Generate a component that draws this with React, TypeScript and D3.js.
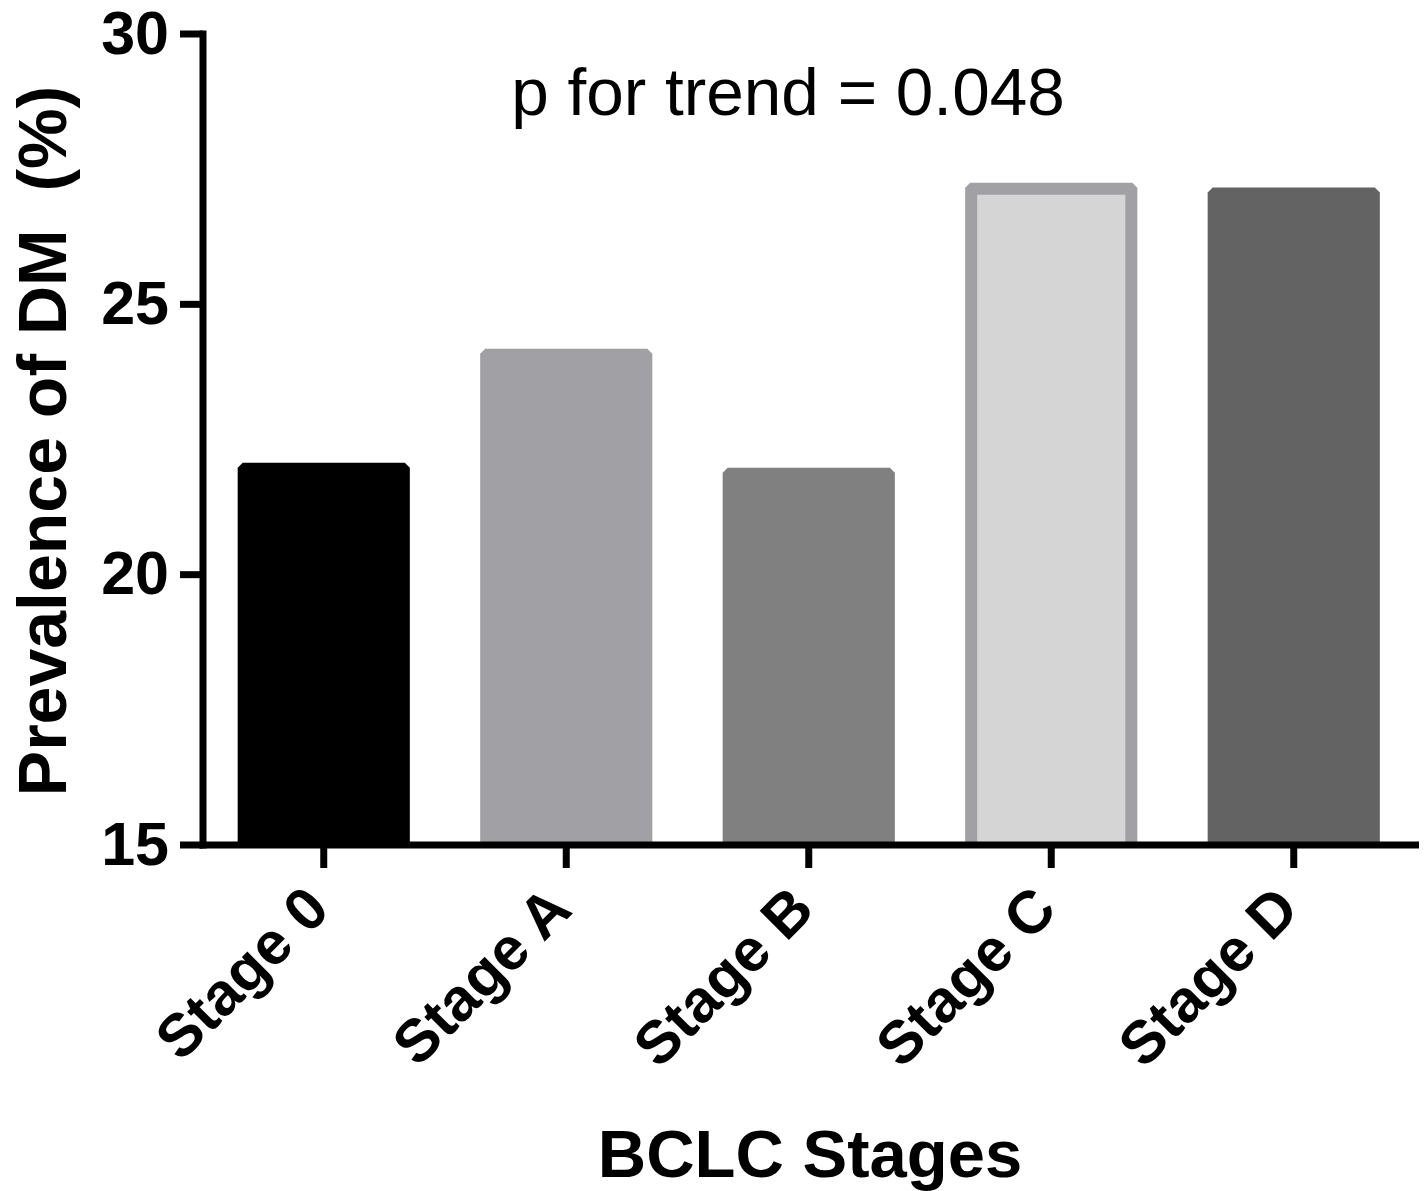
import { useEffect, useRef } from 'react';
import * as d3 from 'd3';

// Values
const stages = ['Stage 0', 'Stage A', 'Stage B', 'Stage C', 'Stage D'];
const prevalence = [22.06, 24.17, 21.97, 27.24, 27.15];
const fills = ['#000000', '#a1a1a5', '#808080', '#d5d5d5', '#636363'];
const outlines = [null, null, null, '#a1a1a5', null];
const yTicks = [15, 20, 25, 30];

const WIDTH = 1426;
const HEIGHT = 1191;
const FONT = '"Liberation Sans", Arial, Helvetica, sans-serif';

// bar outline with small chamfered top corners
const barPath = (x0: number, x1: number, yTop: number, yBottom: number, c: number) => {
    const p = d3.path();
    p.moveTo(x0, yBottom);
    p.lineTo(x0, yTop + c);
    p.lineTo(x0 + c, yTop);
    p.lineTo(x1 - c, yTop);
    p.lineTo(x1, yTop + c);
    p.lineTo(x1, yBottom);
    p.closePath();
    return p.toString();
};

export default function App() {
    const svgRef = useRef<SVGSVGElement>(null);

    useEffect(() => {
        if (!svgRef.current) return;
        const svg = d3.select(svgRef.current);
        svg.selectAll('*').remove();

        const left = 202.5;
        const right = 1415;
        const top = 33.5;
        const bottom = 844.5;

        const x = d3.scaleBand<string>()
            .domain(stages)
            .range([left, right])
            .paddingInner(0.29)
            .paddingOuter(0.145);

        const y = d3.scaleLinear()
            .domain([15, 30])
            .range([bottom, top]);

        // Bars
        const bars = svg.append('g');
        stages.forEach((s, i) => {
            const x0 = x(s)!;
            const x1 = x0 + x.bandwidth();
            const yTop = y(prevalence[i]);
            bars.append('path')
                .attr('d', barPath(x0, x1, yTop, bottom, 5))
                .attr('fill', outlines[i] ?? fills[i]);
            if (outlines[i]) {
                const b = 12;
                bars.append('rect')
                    .attr('x', x0 + b)
                    .attr('y', yTop + b)
                    .attr('width', x.bandwidth() - 2 * b)
                    .attr('height', bottom - yTop - b)
                    .attr('fill', fills[i]);
            }
        });

        // Y axis
        const yAxis = svg.append('g')
            .attr('transform', `translate(${left},0)`)
            .call(d3.axisLeft(y).tickValues(yTicks).tickSize(22.5).tickSizeOuter(0).tickPadding(11));
        yAxis.select('.domain').attr('stroke-width', 7).attr('stroke-linecap', 'square');
        yAxis.selectAll('.tick line').attr('stroke-width', 7);
        yAxis.selectAll('.tick text')
            .attr('font-family', FONT)
            .attr('font-size', 61)
            .attr('font-weight', 'bold')
            .attr('fill', '#000');

        // X axis
        const xAxis = svg.append('g')
            .attr('transform', `translate(0,${bottom})`)
            .call(d3.axisBottom(x).tickSize(23.5).tickSizeOuter(0));
        xAxis.select('.domain').attr('stroke-width', 7).attr('stroke-linecap', 'square');
        xAxis.selectAll('.tick line').attr('stroke-width', 7);
        xAxis.selectAll('.tick text').remove();

        // Rotated category labels
        svg.append('g')
            .selectAll('text')
            .data(stages)
            .enter()
            .append('text')
            .attr('transform', d => `translate(${x(d)! + x.bandwidth() / 2 + 8},912) rotate(-45)`)
            .attr('text-anchor', 'end')
            .attr('font-family', FONT)
            .attr('font-size', 60)
            .attr('font-weight', 'bold')
            .text(d => d);

        // Axis titles
        svg.append('text')
            .attr('transform', `translate(66,441) rotate(-90)`)
            .attr('text-anchor', 'middle')
            .attr('font-family', FONT)
            .attr('font-size', 68)
            .attr('font-weight', 'bold')
            .style('white-space', 'pre')
            .text('Prevalence of DM  (%)');

        svg.append('text')
            .attr('x', 810)
            .attr('y', 1177)
            .attr('text-anchor', 'middle')
            .attr('font-family', FONT)
            .attr('font-size', 67)
            .attr('font-weight', 'bold')
            .text('BCLC Stages');

        // Trend annotation
        svg.append('text')
            .attr('x', 788)
            .attr('y', 115)
            .attr('text-anchor', 'middle')
            .attr('font-family', FONT)
            .attr('font-size', 67.5)
            .text('p for trend = 0.048');
    }, []);

    return (
        <svg
            ref={svgRef}
            width={WIDTH}
            height={HEIGHT}
            style={{ position: 'absolute', left: 0, top: 0, background: '#fff' }}
        />
    );
}
